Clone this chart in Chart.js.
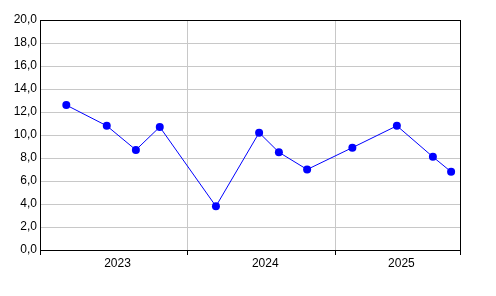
<!DOCTYPE html>
<html>
<head>
<meta charset="utf-8">
<script src="https://cdn.jsdelivr.net/npm/chart.js@4/dist/chart.umd.min.js"></script>
<style>
  html, body { margin: 0; padding: 0; background: #fff; }
  #wrap { width: 496px; height: 296px; }
</style>
</head>
<body>
<div id="wrap"><canvas id="chartLine" width="496" height="296"></canvas></div>
<script>
const dates = ['2023-03-07', '2023-06-15', '2023-08-26', '2023-10-24',
               '2024-03-11', '2024-06-26', '2024-08-14', '2024-10-23',
               '2025-02-12', '2025-06-02', '2025-08-30', '2025-10-14'];
const values = [12.6, 10.8, 8.7, 10.7, 3.8, 10.2, 8.5, 7.0, 8.9, 10.8, 8.1, 6.8];
const yearLabels = ['2023', '2024', '2025'];
const axisStart = '2023-01-01';
const axisEnd = '2025-11-05';

function toYear(s) {
    const d = new Date(s + 'T00:00:00Z');
    const y = d.getUTCFullYear();
    const start = Date.UTC(y, 0, 1), end = Date.UTC(y + 1, 0, 1);
    return y + (d.getTime() - start) / (end - start);
}

const xMin = toYear(axisStart);
const xMax = toYear(axisEnd);
const bounds = yearLabels.map(Number).concat([xMax]);
// label sits in the middle of the visible part of each year
const labelPos = yearLabels.map((y, i) => (Number(y) + Math.min(bounds[i + 1], Number(y) + 1)) / 2 + 0.025);
const isBound = v => bounds.some(b => Math.abs(b - v) < 1e-6);

const ctx = document.getElementById('chartLine').getContext('2d');
const chart = new Chart(ctx, {
    type: 'line',
    data: {
        datasets: [{
            data: dates.map((d, i) => ({ x: toYear(d), y: values[i] })),
            borderColor: '#0000ff',
            backgroundColor: '#0000ff',
            borderWidth: 1,
            pointRadius: 4,
            pointHoverRadius: 4,
            pointBorderWidth: 0,
            tension: 0
        }]
    },
    options: {
        responsive: false,
        animation: false,
        layout: { padding: { left: 0, right: 36, top: 20, bottom: 0 } },
        plugins: {
            legend: { display: false },
            tooltip: { enabled: false }
        },
        scales: {
            x: {
                type: 'linear',
                min: xMin,
                max: xMax,
                afterBuildTicks: scale => {
                    scale.ticks = bounds.concat(labelPos).sort((a, b) => a - b).map(v => ({ value: v }));
                },
                afterFit: scale => { scale.height = 46; },
                border: { color: '#000', width: 1 },
                grid: {
                    drawTicks: true,
                    tickLength: 5,
                    lineWidth: 1,
                    color: c => {
                        const v = c.tick ? c.tick.value : null;
                        if (v === null || !isBound(v)) return 'rgba(0,0,0,0)';
                        return (Math.abs(v - xMin) < 1e-6 || Math.abs(v - xMax) < 1e-6) ? '#000' : '#c8c8c8';
                    },
                    tickColor: c => (c.tick && isBound(c.tick.value)) ? '#000' : 'rgba(0,0,0,0)'
                },
                ticks: {
                    autoSkip: false,
                    maxRotation: 0,
                    padding: 1,
                    color: '#000',
                    font: { family: 'Arial, "Liberation Sans", sans-serif', size: 12 },
                    callback: v => {
                        const i = labelPos.findIndex(p => Math.abs(p - v) < 1e-6);
                        return i >= 0 ? yearLabels[i] : '';
                    }
                }
            },
            y: {
                min: 0,
                max: 20,
                afterFit: scale => { scale.width = 40; },
                border: { color: '#000', width: 1 },
                grid: {
                    drawTicks: false,
                    lineWidth: 1,
                    color: c => (c.tick && c.tick.value === 20) ? '#000' : '#c8c8c8'
                },
                ticks: {
                    stepSize: 2,
                    padding: 3,
                    color: '#000',
                    font: { family: 'Arial, "Liberation Sans", sans-serif', size: 12 },
                    callback: v => v.toFixed(1).replace('.', ',')
                }
            }
        }
    }
});
</script>
</body>
</html>
